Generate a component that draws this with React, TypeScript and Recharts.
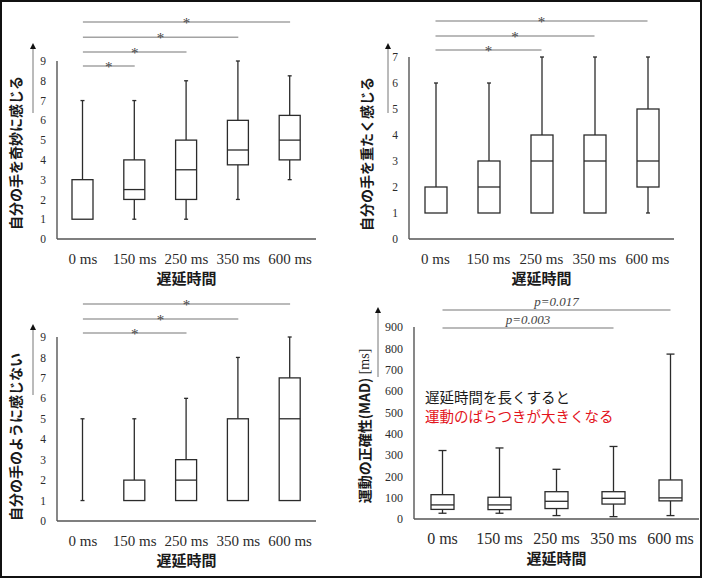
import { ComposedChart, Bar, XAxis, YAxis, ReferenceLine } from 'recharts';

const CATEGORIES = ['0 ms', '150 ms', '250 ms', '350 ms', '600 ms'];

// 自分の手を奇妙に感じる
const STRANGE_MIN = [1, 1, 1, 2, 3];
const STRANGE_Q1 = [1, 2, 2, 3.75, 4];
const STRANGE_MED = [1, 2.5, 3.5, 4.5, 5];
const STRANGE_Q3 = [3, 4, 5, 6, 6.25];
const STRANGE_MAX = [7, 7, 8, 9, 8.25];

// 自分の手を重たく感じる
const HEAVY_MIN = [1, 1, 1, 1, 1];
const HEAVY_Q1 = [1, 1, 1, 1, 2];
const HEAVY_MED = [1, 2, 3, 3, 3];
const HEAVY_Q3 = [2, 3, 4, 4, 5];
const HEAVY_MAX = [6, 6, 7, 7, 7];

// 自分の手のように感じない
const NOTMINE_MIN = [1, 1, 1, 1, 1];
const NOTMINE_Q1 = [1, 1, 1, 1, 1];
const NOTMINE_MED = [1, 1, 2, 1, 5];
const NOTMINE_Q3 = [1, 2, 3, 5, 7];
const NOTMINE_MAX = [5, 5, 6, 8, 9];

// 運動の正確性 (MAD) [ms]
const MAD_MIN = [27, 27, 16, 11, 16];
const MAD_Q1 = [45, 44, 49, 70, 85];
const MAD_MED = [66, 66, 83, 97, 99];
const MAD_Q3 = [114, 102, 128, 128, 183];
const MAD_MAX = [321, 333, 233, 340, 773];

const TICKS_9 = [0, 1, 2, 3, 4, 5, 6, 7, 8, 9];
const TICKS_7 = [0, 1, 2, 3, 4, 5, 6, 7];
const TICKS_MAD = [0, 100, 200, 300, 400, 500, 600, 700, 800, 900];

// significance brackets: always from 0 ms to the given category
const STRANGE_SIG_TO = ['150 ms', '250 ms', '350 ms', '600 ms'];
const STRANGE_SIG_Y = [8.75, 9.45, 10.2, 10.97];
const HEAVY_SIG_TO = ['250 ms', '350 ms', '600 ms'];
const HEAVY_SIG_Y = [7.27, 7.81, 8.38];
const NOTMINE_SIG_TO = ['250 ms', '350 ms', '600 ms'];
const NOTMINE_SIG_Y = [9.2, 9.88, 10.62];
const MAD_SIG_TO = ['350 ms', '600 ms'];
const MAD_SIG_Y = [895, 980];
const MAD_SIG_TEXT = ['p=0.003', 'p=0.017'];

const SERIF = "'Liberation Serif', 'Times New Roman', serif";
const SANS = "'Noto Sans CJK JP', 'Noto Sans', sans-serif";
const INK = '#2b2b2b';
const AXIS = '#555';
const SIG = '#a3a3a3';

function makeRows(mins: number[], q1: number[], med: number[], q3: number[], maxs: number[]) {
  return CATEGORIES.map((name, i) => ({
    name,
    range: [mins[i], maxs[i]],
    min: mins[i],
    q1: q1[i],
    med: med[i],
    q3: q3[i],
    max: maxs[i],
  }));
}

function boxShape(capW: number) {
  return (props: any) => {
    const { x, y, width, height, payload } = props;
    const top = Math.min(y, y + height);
    const h = Math.abs(height);
    const { min, q1, med, q3, max } = payload;
    const py = (v: number) => top + (h * (max - v)) / (max - min);
    const cx = x + width / 2;
    return (
      <g stroke={INK} strokeWidth={1.3} fill="#fff">
        {max > q3 && <line x1={cx} x2={cx} y1={py(max)} y2={py(q3)} />}
        {q1 > min && <line x1={cx} x2={cx} y1={py(q1)} y2={py(min)} />}
        {max > q3 && <line x1={cx - capW / 2} x2={cx + capW / 2} y1={py(max)} y2={py(max)} />}
        {q1 > min && <line x1={cx - capW / 2} x2={cx + capW / 2} y1={py(min)} y2={py(min)} />}
        {q1 === min && q3 === q1 && (
          <line x1={cx - capW / 2} x2={cx + capW / 2} y1={py(min)} y2={py(min)} />
        )}
        {q3 > q1 && <rect x={x} y={py(q3)} width={width} height={py(q1) - py(q3)} />}
        {q3 > q1 && med > q1 && med < q3 && (
          <line x1={x} x2={x + width} y1={py(med)} y2={py(med)} />
        )}
      </g>
    );
  };
}

function sigLabel(text: string, dy: number, italic: boolean, size: number) {
  return (props: any) => {
    const vb = props.viewBox || {};
    const cx = vb.width != null ? vb.x + vb.width / 2 : (vb.x1 + vb.x2) / 2;
    const cy = vb.y != null ? vb.y : vb.y1;
    return (
      <text
        x={cx}
        y={cy + dy}
        textAnchor="middle"
        fontFamily={SERIF}
        fontSize={size}
        fontStyle={italic ? 'italic' : 'normal'}
        fill="#444"
      >
        {text}
      </text>
    );
  };
}

interface PanelProps {
  left: number;
  top: number;
  rows: ReturnType<typeof makeRows>;
  yMax: number;
  ticks: number[];
  axisX: number;
  plotTop: number;
  plotBottom: number;
  plotRight: number;
  barSize: number;
  capW: number;
  yTitle: React.ReactNode;
  yTitleX: number;
  yTitleY: number;
  arrowX: number;
  arrowTop: number;
  arrowBottom: number;
  sigTo: string[];
  sigY: number[];
  sigText?: string[];
  yTickSize: number;
  xTickSize: number;
}

function BoxPanel(p: PanelProps) {
  const W = 351;
  const H = 289;
  const yLabel = () => (
    <g>
      <line x1={p.arrowX} x2={p.arrowX} y1={p.arrowBottom} y2={p.arrowTop + 4} stroke="#777" strokeWidth={1} />
      <path
        d={`M${p.arrowX - 3},${p.arrowTop + 6} L${p.arrowX + 3},${p.arrowTop + 6} L${p.arrowX},${p.arrowTop} Z`}
        fill="#111"
      />
      <text
        x={p.yTitleX}
        y={p.yTitleY}
        transform={`rotate(-90 ${p.yTitleX} ${p.yTitleY})`}
        textAnchor="middle"
        dominantBaseline="central"
        fontFamily={SANS}
        fontSize={14}
        fontWeight="bold"
        fill="#1a1a1a"
      >
        {p.yTitle}
      </text>
    </g>
  );
  const xLabel = (lp: any) => {
    const vb = lp.viewBox || {};
    return (
      <text
        x={vb.x + vb.width / 2}
        y={vb.y + 38}
        textAnchor="middle"
        dominantBaseline="central"
        fontFamily={SANS}
        fontSize={15}
        fontWeight="bold"
        fill="#1a1a1a"
      >
        遅延時間
      </text>
    );
  };
  return (
    <div style={{ position: 'absolute', left: p.left, top: p.top, width: W, height: H }}>
      <ComposedChart
        width={W}
        height={H}
        data={p.rows}
        margin={{ top: p.plotTop, right: W - p.plotRight, bottom: 0, left: 0 }}
      >
        <XAxis
          dataKey="name"
          height={H - p.plotBottom}
          interval={0}
          axisLine={{ stroke: AXIS, strokeWidth: 1.4 }}
          tickLine={false}
          tickMargin={8}
          tick={{ fontFamily: SERIF, fontSize: p.xTickSize, fill: INK }}
          label={xLabel}
        />
        <YAxis
          width={p.axisX}
          domain={[0, p.yMax]}
          ticks={p.ticks}
          interval={0}
          axisLine={{ stroke: AXIS, strokeWidth: 1.4 }}
          tickLine={false}
          tickMargin={5}
          tick={{ fontFamily: SERIF, fontSize: p.yTickSize, fill: INK }}
          label={yLabel}
        />
        <Bar dataKey="range" barSize={p.barSize} isAnimationActive={false} shape={boxShape(p.capW)} />
        {p.sigTo.map((to, i) => (
          <ReferenceLine
            key={to}
            segment={[
              { x: CATEGORIES[0], y: p.sigY[i] },
              { x: to, y: p.sigY[i] },
            ]}
            ifOverflow="visible"
            stroke={SIG}
            strokeWidth={1.5}
            label={
              p.sigText
                ? sigLabel(p.sigText[i], -4, true, 13)
                : sigLabel('*', 6, false, 15)
            }
          />
        ))}
      </ComposedChart>
    </div>
  );
}

export default function App() {
  return (
    <div
      style={{
        position: 'absolute',
        left: 0,
        top: 0,
        width: 702,
        height: 578,
        background: '#fff',
        overflow: 'hidden',
      }}
    >
      <BoxPanel
        left={0}
        top={0}
        rows={makeRows(STRANGE_MIN, STRANGE_Q1, STRANGE_MED, STRANGE_Q3, STRANGE_MAX)}
        yMax={9}
        ticks={TICKS_9}
        axisX={57}
        plotTop={61}
        plotBottom={239}
        plotRight={316}
        barSize={21}
        capW={4}
        yTitle="自分の手を奇妙に感じる"
        yTitleX={15}
        yTitleY={153}
        arrowX={33}
        arrowTop={43}
        arrowBottom={113}
        sigTo={STRANGE_SIG_TO}
        sigY={STRANGE_SIG_Y}
        yTickSize={11.5}
        xTickSize={15}
      />
      <BoxPanel
        left={351}
        top={0}
        rows={makeRows(HEAVY_MIN, HEAVY_Q1, HEAVY_MED, HEAVY_Q3, HEAVY_MAX)}
        yMax={7}
        ticks={TICKS_7}
        axisX={58}
        plotTop={57}
        plotBottom={239}
        plotRight={323}
        barSize={22}
        capW={4}
        yTitle="自分の手を重たく感じる"
        yTitleX={15}
        yTitleY={154}
        arrowX={37}
        arrowTop={43}
        arrowBottom={113}
        sigTo={HEAVY_SIG_TO}
        sigY={HEAVY_SIG_Y}
        yTickSize={11.5}
        xTickSize={15}
      />
      <BoxPanel
        left={0}
        top={289}
        rows={makeRows(NOTMINE_MIN, NOTMINE_Q1, NOTMINE_MED, NOTMINE_Q3, NOTMINE_MAX)}
        yMax={9}
        ticks={TICKS_9}
        axisX={57}
        plotTop={48}
        plotBottom={232}
        plotRight={316}
        barSize={21}
        capW={4}
        yTitle="自分の手のように感じない"
        yTitleX={15}
        yTitleY={148}
        arrowX={33}
        arrowTop={35}
        arrowBottom={106}
        sigTo={NOTMINE_SIG_TO}
        sigY={NOTMINE_SIG_Y}
        yTickSize={11.5}
        xTickSize={15}
      />
      <BoxPanel
        left={351}
        top={289}
        rows={makeRows(MAD_MIN, MAD_Q1, MAD_MED, MAD_Q3, MAD_MAX)}
        yMax={900}
        ticks={TICKS_MAD}
        axisX={63}
        plotTop={38}
        plotBottom={230}
        plotRight={348}
        barSize={23}
        capW={8}
        yTitle={
          <>
            <tspan>運動の正確性(MAD)</tspan>
            <tspan fontFamily={SERIF} fontWeight="normal"> [ms]</tspan>
          </>
        }
        yTitleX={13}
        yTitleY={137}
        arrowX={27}
        arrowTop={18}
        arrowBottom={88}
        sigTo={MAD_SIG_TO}
        sigY={MAD_SIG_Y}
        sigText={MAD_SIG_TEXT}
        yTickSize={12}
        xTickSize={16}
      />
      <div
        style={{
          position: 'absolute',
          left: 425,
          top: 387,
          fontFamily: SANS,
          fontSize: 14.5,
          lineHeight: '19px',
          color: '#1a1a1a',
          whiteSpace: 'nowrap',
        }}
      >
        <div>遅延時間を長くすると</div>
        <div style={{ color: '#e3141c' }}>運動のばらつきが大きくなる</div>
      </div>
      <div
        style={{
          position: 'absolute',
          left: 0,
          top: 0,
          width: 702,
          height: 578,
          boxSizing: 'border-box',
          border: '2px solid #111',
          pointerEvents: 'none',
        }}
      />
    </div>
  );
}
